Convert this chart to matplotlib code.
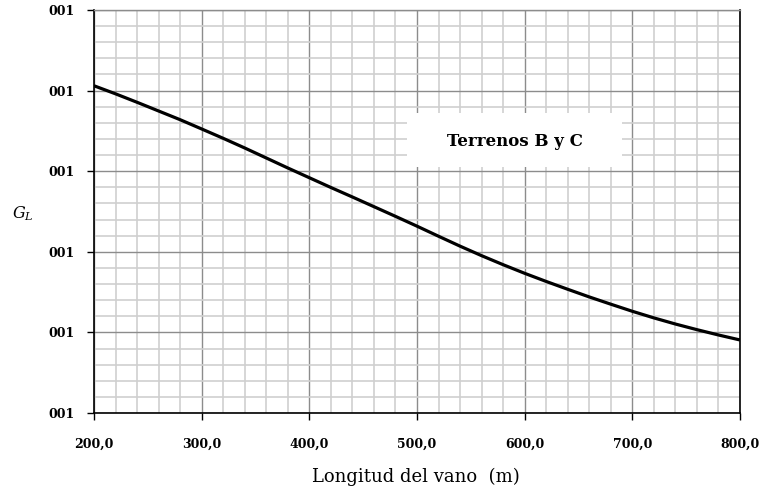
import matplotlib
matplotlib.use("Agg")
import matplotlib.pyplot as plt
from matplotlib.ticker import MultipleLocator, FuncFormatter

# Data (y in axis units, labels shown as "001")
span_m = [200, 220, 240, 260, 280, 300, 320, 340, 360, 380, 400, 420, 440, 460, 480,
          500, 520, 540, 560, 580, 600, 620, 640, 660, 680, 700, 720, 740, 760, 780, 800]
g_l = [4.06, 3.96, 3.855, 3.747, 3.639, 3.524, 3.408, 3.288, 3.164, 3.040, 2.919, 2.798,
       2.680, 2.560, 2.440, 2.318, 2.193, 2.070, 1.952, 1.840, 1.733, 1.632, 1.535, 1.440,
       1.350, 1.262, 1.180, 1.104, 1.034, 0.968, 0.906]
x_ticks = [200, 300, 400, 500, 600, 700, 800]
y_tick_label = "001"

serif = ["DejaVu Serif"]

fig = plt.figure(figsize=(7.61, 4.90), dpi=100)
ax = fig.add_axes([94/761, 77/490, (740-94)/761, (413-10)/490])

ax.plot(span_m, g_l, color="black", lw=2.3, solid_capstyle="butt", solid_joinstyle="round", zorder=5)

ax.set_xlim(200, 800)
ax.set_ylim(0, 5)
ax.set_xticks(x_ticks)
ax.xaxis.set_minor_locator(MultipleLocator(20))
ax.yaxis.set_major_locator(MultipleLocator(1))
ax.yaxis.set_minor_locator(MultipleLocator(0.2))
ax.xaxis.set_major_formatter(FuncFormatter(lambda v, p: f"{v:.1f}".replace(".", ",")))
ax.yaxis.set_major_formatter(FuncFormatter(lambda v, p: y_tick_label))

ax.grid(which="major", color="#8c8c8c", lw=1.0)
ax.grid(which="minor", color="#cfcfcf", lw=1.2)
ax.set_axisbelow(True)

ax.tick_params(which="major", direction="out", length=5, width=1, color="black")
ax.tick_params(which="minor", length=0)
ax.tick_params(axis="x", pad=12.5)
ax.tick_params(axis="y", pad=9)
for lab in ax.get_xticklabels() + ax.get_yticklabels():
    lab.set_fontfamily(serif)
    lab.set_fontweight("bold")
    lab.set_fontsize(9)

for s in ["left", "bottom", "right"]:
    ax.spines[s].set_color("black")
    ax.spines[s].set_linewidth(1.2)
ax.spines["top"].set_color("#8c8c8c")
ax.spines["top"].set_linewidth(1.0)

# Label box
box_x0 = (407 - 94) / (740 - 94)
box_x1 = (622 - 94) / (740 - 94)
box_y0 = (413 - 167) / (413 - 10)
box_y1 = (413 - 113) / (413 - 10)
ax.add_patch(plt.Rectangle((box_x0, box_y0), box_x1 - box_x0, box_y1 - box_y0,
                           transform=ax.transAxes, facecolor="white", edgecolor="none", zorder=3))
ax.text((box_x0 + box_x1) / 2, (413 - 141) / (413 - 10), "Terrenos B y C", transform=ax.transAxes,
        ha="center", va="center", fontsize=12, fontweight="bold", family=serif, zorder=4)

fig.text(12/761, 1 - 214/490, r"$G_L$", fontsize=11.5, ha="left", va="center",
         math_fontfamily="dejavuserif")
fig.text(416/761, 1 - 477/490, "Longitud del vano  (m)", fontsize=13, family=serif,
         ha="center", va="center")

fig.savefig("out.png", dpi=100)
